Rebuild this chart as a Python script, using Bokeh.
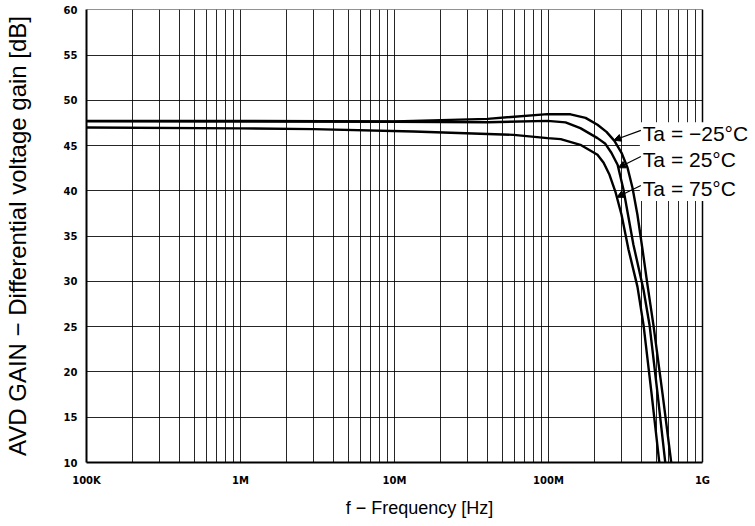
import numpy as np
from bokeh.plotting import figure
from bokeh.models import (FixedTicker, CustomJSTickFormatter, Label, Arrow, Span,
                          NormalHead, BoxAnnotation, Range1d)
from bokeh.embed import file_html
from bokeh.resources import INLINE

# ---- data ----
top_f = [1.0e5, 1.0e6, 1.0e7, 4.02e7, 9.86e7, 1.39e8, 1.74e8, 2.08e8, 2.38e8, 2.68e8,
         2.98e8, 3.26e8, 3.51e8, 3.78e8, 4.08e8, 4.39e8, 4.81e8, 5.50e8, 6.29e8]
top_db = [47.75, 47.75, 47.69, 47.97, 48.49, 48.47, 48.08, 47.31, 46.53, 45.54,
          44.22, 42.56, 40.35, 37.37, 33.51, 29.65, 25.1, 17.6, 9.78]

mid_f = [1.0e5, 1.0e6, 1.0e7, 4.02e7, 9.86e7, 1.29e8, 1.61e8, 2.08e8, 2.34e8, 2.56e8,
         2.81e8, 3.07e8, 3.31e8, 3.56e8, 4.14e8, 4.53e8, 5.10e8, 5.75e8]
mid_db = [47.69, 47.67, 47.64, 47.60, 47.75, 47.58, 46.94, 45.84, 45.21, 44.22,
          42.89, 40.13, 37.04, 34.06, 29.09, 25.2, 17.7, 9.78]

low_f = [1.0e5, 1.0e6, 2.98e6, 1.33e7, 5.93e7, 9.86e7, 1.20e8, 1.61e8, 2.08e8, 2.28e8,
         2.49e8, 2.72e8, 2.98e8, 3.31e8, 3.78e8, 4.14e8, 4.67e8, 5.26e8]
low_db = [47.01, 46.92, 46.83, 46.57, 46.20, 45.84, 45.73, 45.10, 44.0, 43.11,
          41.79, 39.91, 37.37, 33.51, 29.43, 25.2, 17.6, 9.78]

series_labels = ["Ta = \u221225\u00b0C", "Ta = 25\u00b0C", "Ta = 75\u00b0C"]
x_tick_values = [1e5, 1e6, 1e7, 1e8, 1e9]
x_tick_labels = ["100K", "1M", "10M", "100M", "1G"]
y_tick_values = [10, 15, 20, 25, 30, 35, 40, 45, 50, 55, 60]

X_MIN, X_MAX = 1e5, 1e9
Y_MIN, Y_MAX = 10, 60
# the frame is extended to the right so that the curve labels fit past 1G
x_view_end = 10 ** (9 + 50 / 154)

p = figure(x_axis_type="log", x_range=Range1d(X_MIN, x_view_end),
           y_range=Range1d(Y_MIN, Y_MAX + 0.05),
           frame_width=666, frame_height=453,
           min_border_left=82, min_border_top=9, min_border_right=0, min_border_bottom=55,
           output_backend="svg", toolbar_location=None)
p.background_fill_color = "white"
p.border_fill_color = "white"
p.outline_line_color = None

minor = [m * 10 ** k for k in range(5, 9) for m in range(2, 10)]
p.xaxis.ticker = FixedTicker(ticks=x_tick_values, minor_ticks=minor)
p.yaxis.ticker = FixedTicker(ticks=y_tick_values)
labels_js = "{" + ",".join(f"{int(np.log10(v))}:'{t}'" for v, t in zip(x_tick_values, x_tick_labels)) + "}"
p.xaxis.formatter = CustomJSTickFormatter(
    code=f"const m={labels_js}; return m[Math.round(Math.log10(tick))] || '';")
p.xaxis.bounds = (X_MIN, X_MAX)

for ax in (p.xaxis, p.yaxis):
    ax.major_tick_out = 0
    ax.major_tick_in = 0
    ax.minor_tick_out = 0
    ax.minor_tick_in = 0
    ax.axis_line_color = "black"
    ax.axis_line_width = 2
    ax.major_label_text_font = "DejaVu Sans"
    ax.major_label_text_font_style = "bold"
    ax.major_label_text_font_size = "10px"
    ax.major_label_text_color = "black"
    ax.axis_label_text_font = "Liberation Sans"
    ax.axis_label_text_font_style = "normal"
    ax.axis_label_text_color = "black"

p.xaxis.axis_label = "f \u2212 Frequency [Hz]"
p.xaxis.axis_label_text_font_size = "18px"
p.xaxis.major_label_standoff = 12
p.xaxis.axis_label_standoff = 9

p.yaxis.axis_label = "AVD GAIN \u2212 Differential voltage gain [dB]"
p.yaxis.axis_label_text_font_size = "24px"
p.yaxis.major_label_standoff = 9
p.yaxis.axis_label_standoff = 30

for g in (p.xgrid, p.ygrid):
    g.grid_line_color = "black"
    g.grid_line_width = 1
    g.grid_line_alpha = 0.85
p.xgrid.minor_grid_line_color = "black"
p.xgrid.minor_grid_line_width = 1
p.xgrid.minor_grid_line_alpha = 0.85
p.ygrid.cross_bounds = (X_MIN, X_MAX)

for f, db in ((top_f, top_db), (mid_f, mid_db), (low_f, low_db)):
    p.line(f, db, line_color="black", line_width=2.4)

# right border of the chart area at 1G
p.add_layout(Span(location=X_MAX, dimension="height", line_color="black", line_width=1.5))

# white box behind the labels
p.add_layout(BoxAnnotation(left=3.92e8, right=x_view_end, bottom=38.9, top=47.6,
                           fill_color="white", fill_alpha=1.0, line_color=None))

label_x = 4.1e8
label_y = [46.4, 43.5, 40.3]
leader_f = [2.66e8, 2.84e8, 2.78e8]
curves = [(top_f, top_db), (mid_f, mid_db), (low_f, low_db)]
for txt, ly, lf, (cf, cd) in zip(series_labels, label_y, leader_f, curves):
    end_y = float(np.interp(np.log10(lf), np.log10(cf), cd))
    p.add_layout(Arrow(end=NormalHead(size=7, fill_color="black", line_color="black"),
                       x_start=3.98e8, y_start=ly + 0.3, x_end=lf, y_end=end_y,
                       line_color="black", line_width=1.2))
    p.add_layout(Label(x=label_x, y=ly, text=txt, text_font="Liberation Sans",
                       text_font_size="21px", text_baseline="middle", text_color="black"))

open("out.html", "w").write(file_html(p, INLINE))
